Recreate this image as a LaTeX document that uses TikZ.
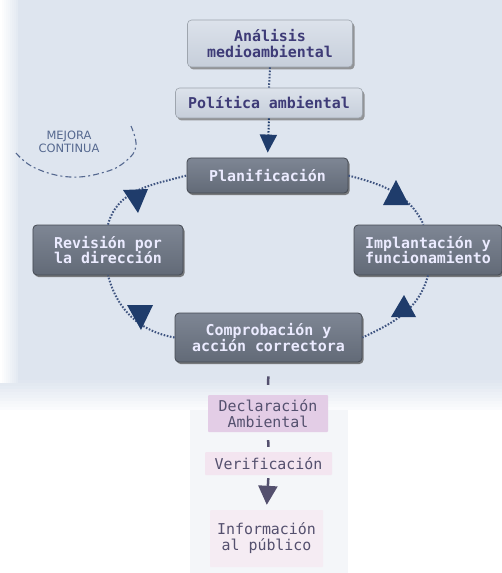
\documentclass[tikz,border=0pt]{standalone}
\usepackage{fontspec}
\setmonofont{DejaVu Sans Mono}
\setsansfont{DejaVu Sans}
\usetikzlibrary{shadows,arrows.meta,calc}
\definecolor{bgblue}{HTML}{DEE5EF}
\definecolor{boxlightT}{HTML}{DCE2EB}
\definecolor{boxlightB}{HTML}{C6CEDA}
\definecolor{boxdarkT}{HTML}{7E8694}
\definecolor{boxdarkB}{HTML}{626A77}
\definecolor{txtnavy}{HTML}{3E3B77}
\definecolor{navytri}{HTML}{1F3C6B}
\definecolor{dotc}{HTML}{3F5480}
\definecolor{pinkA}{HTML}{E3CDE6}
\definecolor{pinkB}{HTML}{F3E5F0}
\definecolor{pinkC}{HTML}{F5ECF3}
\definecolor{txtplum}{HTML}{54506E}
\definecolor{cloudc}{HTML}{55688F}
\tikzset{
  basebox/.style={rounded corners=4bp, align=center, inner sep=0pt,
    font=\ttfamily\fontsize{15}{16}\selectfont},
  topbox/.style={basebox, top color=boxlightT, bottom color=boxlightB,
    draw=boxlightB!80!black, line width=0.6bp, text=txtnavy, font=\ttfamily\bfseries\fontsize{15}{16}\selectfont,
    drop shadow={shadow xshift=2bp, shadow yshift=-2.5bp, fill=black!55, opacity=0.7}},
  darkbox/.style={basebox, top color=boxdarkT, bottom color=boxdarkB,
    draw=boxdarkB!70!black, line width=0.8bp, text=white!92!blue, font=\ttfamily\bfseries\fontsize{15}{16}\selectfont,
    drop shadow={shadow xshift=1.5bp, shadow yshift=-2bp, fill=black!70, opacity=0.7}},
  pinkbox/.style={basebox, rounded corners=1bp, text=txtplum},
  cyc/.style={draw=dotc, line width=2bp, dash pattern=on 1.6bp off 1.6bp},
  vdot/.style={draw=dotc, line width=2bp, dash pattern=on 1.6bp off 1.6bp},
  bar/.style={draw=txtplum, line width=2.5bp},
  tri/.style={fill=navytri},
}
\begin{document}
\begin{tikzpicture}[x=1bp,y=-1bp]
\useasboundingbox (0,0) rectangle (502,573);
% background
\fill[bgblue!35] (190,380) rectangle (348,573);
\fill[bgblue] (0,0) rectangle (502,380);
\foreach \i in {0,...,9}{
  \pgfmathtruncatemacro{\pc}{95-9*\i}
  \fill[bgblue!\pc] (0,380+3*\i) rectangle (502,383.2+3*\i);
}
\foreach \i in {0,...,8}{
  \pgfmathtruncatemacro{\pc}{10*\i}
  \fill[bgblue!\pc!white] (2*\i,0) rectangle (2*\i+2.2,383);
}
% mejora continua
\node[font=\sffamily\fontsize{11.5}{13.5}\selectfont, text=cloudc, align=center] (mej) at (69,142) {MEJORA\\CONTINUA};
\draw[cloudc, line width=1.1bp, dash pattern=on 6bp off 3bp on 2bp off 3bp]
  plot[smooth, tension=0.7] coordinates {(16,153) (35,168) (70,177) (105,172) (126,161) (136,146) (131,126)};
% nodes
\node[topbox, minimum width=165bp, minimum height=47bp] (ana) at (270,43.5) {Análisis\\medioambiental};
\node[topbox, minimum width=187bp, minimum height=30bp] (pol) at (269,103) {Política ambiental};
\node[darkbox, minimum width=161bp, minimum height=35bp] (plan) at (267.5,175.5) {Planificación};
\node[darkbox, minimum width=150bp, minimum height=50bp] (rev) at (108,250) {Revisión por\\la dirección};
\node[darkbox, minimum width=148bp, minimum height=50bp] (imp) at (428,250) {Implantación y\\funcionamiento};
\node[darkbox, minimum width=187bp, minimum height=49bp] (comp) at (268.5,337.5) {Comprobación y\\acción correctora};
\node[pinkbox, fill=pinkA, minimum width=120bp, minimum height=37bp] (decl) at (268,413.5) {Declaración\\Ambiental};
\node[pinkbox, fill=pinkB, minimum width=127bp, minimum height=23bp] (ver) at (268.5,463.5) {Verificación};
\node[pinkbox, fill=pinkC, minimum width=113bp, minimum height=57bp] (info) at (266.5,538.5) {Información\\al público};
% vertical connectors
\draw[vdot] (ana.south) -- (pol.north);
\draw[vdot, -{Triangle[width=17bp,length=18bp]}, navytri, shorten >=5bp] (pol.south) -- (plan.north);
\draw[bar, shorten <=14bp, shorten >=10bp] (comp.south) -- (decl.north);
\draw[bar, shorten <=8bp, shorten >=5bp] (decl.south) -- (ver.north);
\draw[draw=txtplum, line width=2.5bp, -{Triangle[width=19bp,length=19bp]}, shorten <=3bp, shorten >=5bp] (ver.south) -- (info.north);
% cycle
\draw[cyc] (plan.east) to[out=-15, in=115] (imp.100);
\draw[cyc] (imp.south) to[out=-105, in=25] (comp.east);
\draw[cyc] (comp.west) to[out=170, in=-75] (rev.south);
\draw[cyc] (rev.north) to[out=75, in=195] (plan.west);
% triangles
\coordinate (t1) at (135,201);
\coordinate (t2) at (396,193);
\coordinate (t3) at (140,317);
\coordinate (t4) at (403,306);
\fill[tri] (t1) ++(-12,-11) -- ++(25,-1) -- ++(-10,24) -- cycle;
\fill[tri] (t2) ++(0,-13) -- ++(13,25) -- ++(-26,0) -- cycle;
\fill[tri] (t3) ++(-13,-12) -- ++(26,0) -- ++(-12,25) -- cycle;
\fill[tri] (t4) ++(1,-11) -- ++(12,22) -- ++(-25,0) -- cycle;
\end{tikzpicture}
\end{document}
